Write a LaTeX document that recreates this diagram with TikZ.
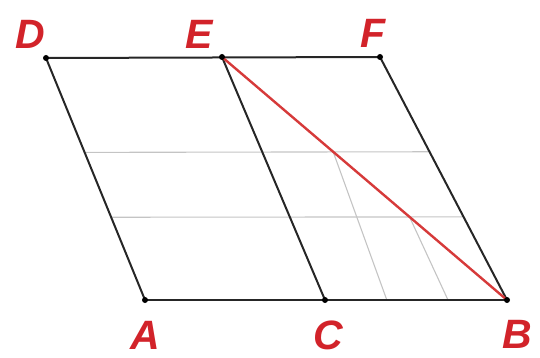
\documentclass[tikz,border=0pt]{standalone}
\usepackage{fontspec}
\setmainfont{Liberation Sans}
\usetikzlibrary{calc}
\definecolor{lblred}{HTML}{D2232A}
\definecolor{segred}{HTML}{D63A3A}
\definecolor{gridgrey}{HTML}{C4C4C4}
\tikzset{
  edge/.style={draw=black!85, line width=2pt},
  redge/.style={draw=segred, line width=2.4pt},
  gedge/.style={draw=gridgrey, line width=1.1pt},
  vdot/.style={circle, fill=black, inner sep=0pt, minimum size=6pt},
  lbl/.style={text=lblred, font=\fontsize{41}{41}\selectfont\bfseries\itshape, inner sep=0pt}
}
\begin{document}
\begin{tikzpicture}[x=1pt,y=-1pt]
\useasboundingbox (0,0) rectangle (540,358);
% vertices
\coordinate (D) at (46,58);
\coordinate (E) at (222,57);
\coordinate (F) at (380,57);
\coordinate (A) at (145,300);
\coordinate (C) at (325,300);
\coordinate (B) at (507,300);
% grey grid
\coordinate (u1) at ($(D)!0.39!(A)$);
\coordinate (u2) at ($(F)!0.39!(B)$);
\coordinate (l1) at ($(D)!0.658!(A)$);
\coordinate (l2) at ($(F)!0.658!(B)$);
\coordinate (r1) at ($(E)!0.39!(B)$);
\coordinate (r2) at ($(E)!0.658!(B)$);
\coordinate (b1) at ($(A)!0.668!(B)$);
\coordinate (b2) at ($(A)!0.837!(B)$);
\draw[gedge] (u1) -- (u2);
\draw[gedge] (l1) -- (l2);
\draw[gedge] (r1) -- (b1);
\draw[gedge] (r2) -- (b2);
% black edges
\draw[edge] (D) -- (F);
\draw[edge] (A) -- (B);
\draw[edge] (D) -- (A);
\draw[edge] (E) -- (C);
\draw[edge] (F) -- (B);
% red diagonal
\draw[redge] (E) -- (B);
% dots
\foreach \p in {D,E,F,A,C,B} \node[vdot] (dot\p) at (\p) {};
% labels
\node[lbl] (LD) at (30,34) {D};
\node[lbl] (LE) at (199,34) {E};
\node[lbl] (LF) at (373,33) {F};
\node[lbl] (LA) at (145,335) {A};
\node[lbl] (LC) at (328,335) {C};
\node[lbl] (LB) at (517,334) {B};
\end{tikzpicture}
\end{document}
